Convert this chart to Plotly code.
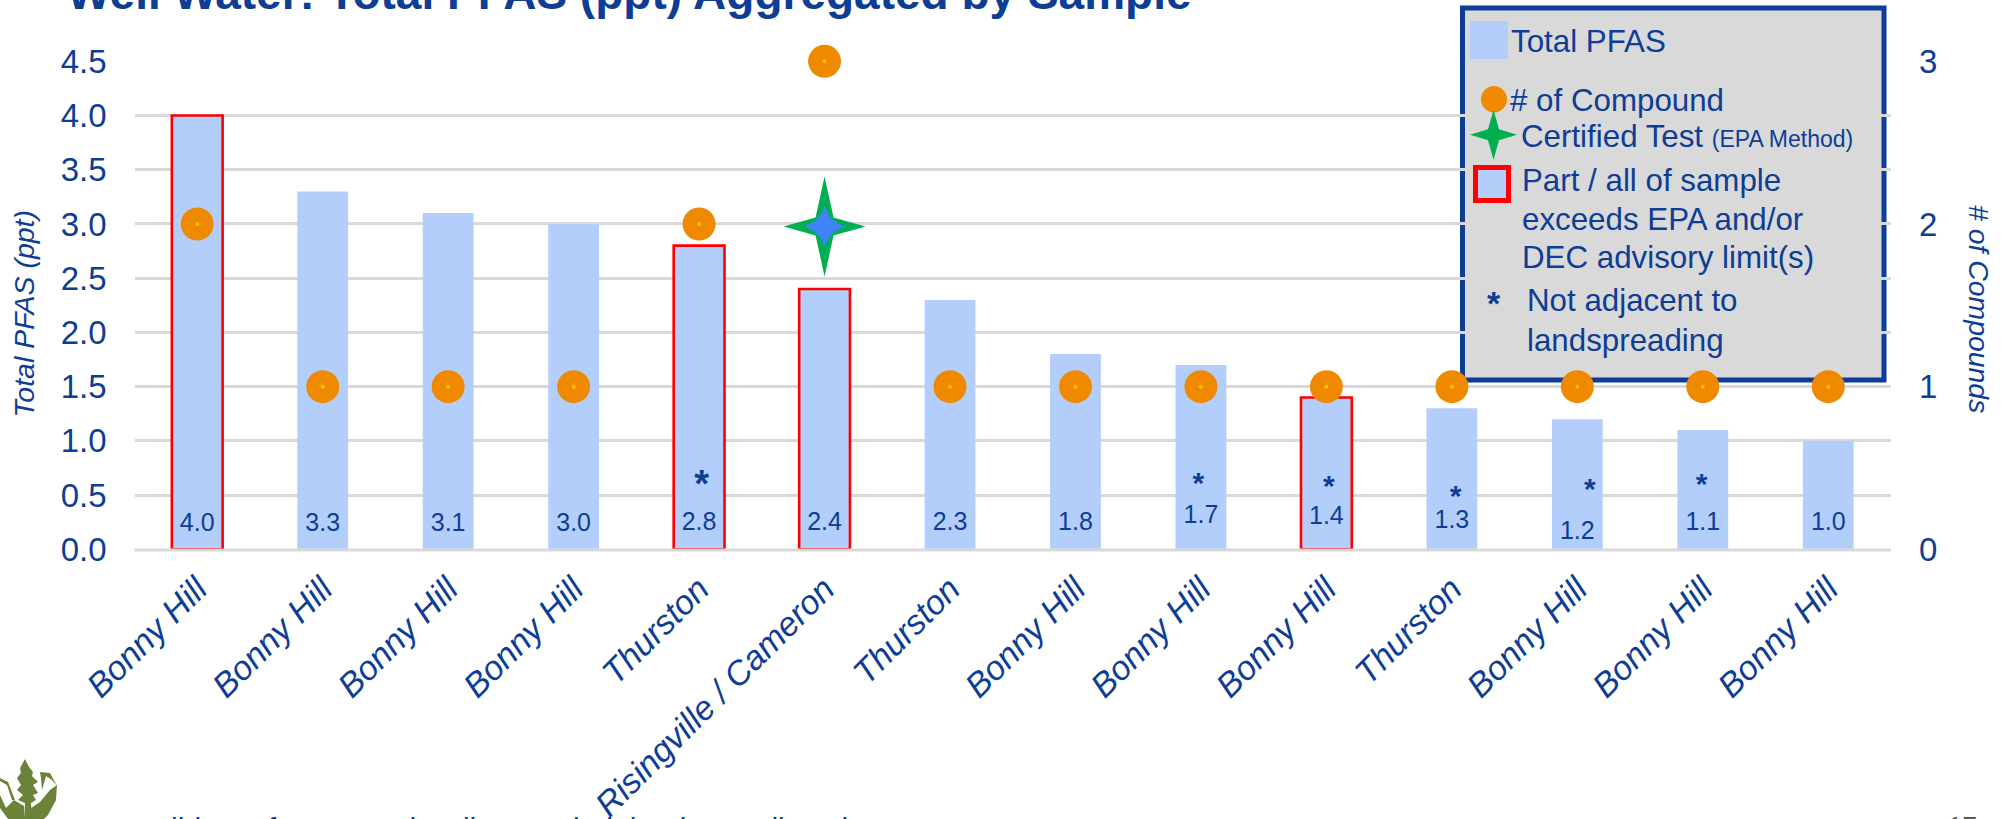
import plotly.graph_objects as go

# ---- data ----
LOCATIONS = ["Bonny Hill", "Bonny Hill", "Bonny Hill", "Bonny Hill", "Thurston", "Risingville / Cameron",
             "Thurston", "Bonny Hill", "Bonny Hill", "Bonny Hill", "Thurston", "Bonny Hill", "Bonny Hill", "Bonny Hill"]
TOTAL_PFAS = [4.0, 3.3, 3.1, 3.0, 2.8, 2.4, 2.3, 1.8, 1.7, 1.4, 1.3, 1.2, 1.1, 1.0]
NUM_COMPOUNDS = [2, 1, 1, 1, 2, 3, 1, 1, 1, 1, 1, 1, 1, 1]
EXCEEDS_LIMIT = [True, False, False, False, True, True, False, False, False, True, False, False, False, False]
NOT_ADJACENT = [False, False, False, False, True, False, False, False, True, True, True, True, True, False]
CERTIFIED_INDEX = [5]
CERTIFIED_LEVEL = [1.985]
Y_TICKS = [0, 0.5, 1, 1.5, 2, 2.5, 3, 3.5, 4, 4.5]
Y2_TICKS = [0, 1, 2, 3]

# ---- label placement (left-axis units) ----
LABEL_HEIGHT = [0.23, 0.23, 0.23, 0.23, 0.235, 0.235, 0.235, 0.235, 0.30, 0.295, 0.25, 0.15, 0.235, 0.24]
STAR_HEIGHT = [0, 0, 0, 0, 0.573, 0, 0, 0, 0.589, 0.564, 0.469, 0.536, 0.582, 0]
STAR_SHIFT = [0, 0, 0, 0, 0.02, 0, 0, 0, -0.02, 0.02, 0.03, 0.1, -0.01, 0]
STAR_SIZE = [0, 0, 0, 0, 38, 0, 0, 0, 30, 30, 30, 30, 30, 0]

# ---- style ----
W, H = 2011, 819
NAVY = "#0D3D94"
BAR = "#B3CEFB"
ORANGE = "#EF8A00"
GRID = "#D9D9D9"
GREEN = "#00B050"
OLIVE = "#6B8239"
FONT = "Liberation Sans"
LEGEND_SIZE = 31.3
L, R, T, B = 134.5, 1891, 61.3, 549.3
Y_RATIO = 4.5 / 3


def xp(x):
    return x / W


def yp(y):
    return 1 - y / H


def poly(points):
    return "M " + " L ".join(f"{xp(x):.5f},{yp(y):.5f}" for x, y in points) + " Z"


def star_path(w, h, c):
    return (f"M {-w},0 L {-c},{c} L 0,{h} L {c},{c} L {w},0 "
            f"L {c},{-c} L 0,{-h} L {-c},{-c} Z")


xs = list(range(len(LOCATIONS)))
fig = go.Figure()

fig.add_trace(go.Bar(
    x=xs, y=TOTAL_PFAS, width=0.405, name="Total PFAS", showlegend=False,
    marker=dict(color=BAR,
                line=dict(color=["#FF0000" if e else BAR for e in EXCEEDS_LIMIT],
                          width=[2.6 if e else 0 for e in EXCEEDS_LIMIT])),
    hoverinfo="skip"))

fig.add_trace(go.Scatter(
    x=xs, y=LABEL_HEIGHT, mode="text", text=[f"{v:.1f}" for v in TOTAL_PFAS],
    textposition="middle center", textfont=dict(family=FONT, size=25, color=NAVY),
    showlegend=False, hoverinfo="skip", cliponaxis=False))

star_x = [i + s for i, s, n in zip(xs, STAR_SHIFT, NOT_ADJACENT) if n]
star_y = [v for v, n in zip(STAR_HEIGHT, NOT_ADJACENT) if n]
star_s = [v for v, n in zip(STAR_SIZE, NOT_ADJACENT) if n]
fig.add_trace(go.Scatter(
    x=star_x, y=star_y, mode="text", text=["*"] * len(star_x),
    textposition="middle center", textfont=dict(family=FONT, size=star_s, color=NAVY, weight="bold"),
    showlegend=False, hoverinfo="skip", cliponaxis=False))

fig.add_trace(go.Scatter(
    x=xs, y=NUM_COMPOUNDS, yaxis="y2", mode="markers", name="# of Compound", showlegend=False,
    marker=dict(symbol="circle", size=33, color=ORANGE, line=dict(width=0)),
    cliponaxis=False, hoverinfo="skip"))
fig.add_trace(go.Scatter(
    x=xs, y=NUM_COMPOUNDS, yaxis="y2", mode="markers", showlegend=False,
    marker=dict(symbol="circle", size=4, color="#FFC000", line=dict(width=0)),
    cliponaxis=False, hoverinfo="skip"))
fig.add_trace(go.Scatter(
    x=CERTIFIED_INDEX, y=CERTIFIED_LEVEL, yaxis="y2", mode="markers", name="Certified Test", showlegend=False,
    marker=dict(symbol="star-diamond", size=30, color="#3F83F8", line=dict(width=0)),
    cliponaxis=False, hoverinfo="skip"))

shapes = [
    # legend box, below the gridlines as in the reference
    dict(type="rect", xref="paper", yref="paper", layer="below",
         x0=xp(1462.5), x1=xp(1884), y0=yp(380), y1=yp(8),
         fillcolor=GRID, line=dict(color=NAVY, width=5)),
    # zero line over the bar feet
    dict(type="line", xref="paper", yref="paper", layer="above",
         x0=xp(L), x1=xp(R), y0=yp(B + 0.6), y1=yp(B + 0.6), line=dict(color=GRID, width=3)),
    # green certified star, anchored on the data (left axis, same scale position as the right axis value)
    dict(type="path", layer="between", xref="x", yref="y", xsizemode="pixel", ysizemode="pixel",
         xanchor=CERTIFIED_INDEX[0], yanchor=CERTIFIED_LEVEL[0] * Y_RATIO,
         path=star_path(41, 50, 9), fillcolor=GREEN, line=dict(width=0)),
    # legend keys
    dict(type="rect", xref="paper", yref="paper", x0=xp(1470), x1=xp(1508), y0=yp(59), y1=yp(21),
         fillcolor=BAR, line=dict(width=0)),
    dict(type="circle", xref="paper", yref="paper", x0=xp(1481), x1=xp(1507), y0=yp(112.5), y1=yp(86),
         fillcolor=ORANGE, line=dict(width=0)),
    dict(type="path", xref="paper", yref="paper", xsizemode="pixel", ysizemode="pixel",
         xanchor=xp(1493.5), yanchor=yp(134.7), path=star_path(23.5, 25, 5.5),
         fillcolor=GREEN, line=dict(width=0)),
    dict(type="rect", xref="paper", yref="paper", x0=xp(1475.5), x1=xp(1508.5), y0=yp(200.5), y1=yp(167.5),
         fillcolor=BAR, line=dict(color="#FF0000", width=5)),
    # logo
    dict(type="path", xref="paper", yref="paper", fillcolor=OLIVE, line=dict(width=0),
         path=poly([(25, 759), (29, 767), (33, 772), (32, 776), (38, 782), (33, 785), (38, 793), (33, 795),
                    (36, 800), (31, 803), (32, 819), (24, 819), (25, 803), (18, 800), (23, 795), (17, 790),
                    (21, 785), (17, 778), (21, 773), (20, 768)])),
    dict(type="path", xref="paper", yref="paper", fillcolor=OLIVE, line=dict(width=0),
         path=poly([(0, 795), (6, 808), (14, 800), (24, 806), (24, 819), (8, 819), (0, 808)])),
    dict(type="path", xref="paper", yref="paper", fillcolor=OLIVE, line=dict(width=0),
         path=poly([(31, 808), (40, 802), (50, 790), (57, 785), (56, 800), (48, 815), (44, 819), (31, 819)])),
    dict(type="path", xref="paper", yref="paper", fillcolor=OLIVE, line=dict(width=0),
         path=poly([(40, 772), (50, 773), (57, 786), (52, 780), (46, 776), (42, 790), (41, 778)])),
    dict(type="path", xref="paper", yref="paper", fillcolor=OLIVE, line=dict(width=0),
         path=poly([(0, 778), (8, 782), (15, 800), (12, 800), (7, 785), (0, 781)])),
]


def note(text, x, y, size=LEGEND_SIZE, color=NAVY, bold=False, anchor="left", angle=0, italic=False):
    s = text
    if bold:
        s = f"<b>{s}</b>"
    if italic:
        s = f"<i>{s}</i>"
    return dict(text=s, xref="paper", yref="paper", x=xp(x), y=yp(y), xanchor=anchor, yanchor="middle",
                showarrow=False, textangle=angle, borderpad=0,
                font=dict(family=FONT, size=size, color=color))


annotations = [
    note("Well Water: Total PFAS (ppt) Aggregated by Sample", 66, -7, size=46, bold=True),
    note("Total PFAS (ppt)", 23.5, 314, size=28.5, anchor="center", angle=-90, italic=True),
    note("# of Compounds", 1979, 309, size=28.4, anchor="center", angle=90, italic=True),
    note("Total PFAS", 1510, 41.7),
    note("# of Compound", 1509, 100),
    note("Certified Test <span style='font-size:23px'>(EPA Method)</span>", 1520, 137),
    note("Part / all of sample", 1521, 180),
    note("exceeds EPA and/or", 1521, 220),
    note("DEC advisory limit(s)", 1521, 257),
    note("*", 1493.5, 303, size=34, anchor="center", bold=True),
    note("Not adjacent to", 1525.5, 300),
    note("landspreading", 1525.5, 340),
    note("Note: Slide 8 of 8: 67 total wells sampled, landspreading sites", 70, 828, size=30),
    note("17", 1947, 826, size=26, color="#595959"),
]

fig.update_layout(
    width=W, height=H, margin=dict(l=0, r=0, t=0, b=0, autoexpand=False),
    paper_bgcolor="rgba(0,0,0,0)", plot_bgcolor="rgba(0,0,0,0)",
    showlegend=False, bargap=0.6, shapes=shapes, annotations=annotations,
    font=dict(family=FONT, color=NAVY),
    xaxis=dict(domain=[xp(L), xp(R)], range=[-0.5, 13.5], tickmode="array", tickvals=xs, ticktext=LOCATIONS,
               tickangle=-45, showgrid=False, zeroline=False, showline=False, ticks="", ticklabelstandoff=12,
               tickfont=dict(family=FONT, size=34, color=NAVY, style="italic"), automargin=False),
    yaxis=dict(domain=[yp(B), yp(T)], range=[0, 4.5], tickmode="array", tickvals=Y_TICKS,
               ticktext=[f"{v:.1f}" for v in Y_TICKS], showgrid=True, gridcolor=GRID, gridwidth=3,
               zeroline=False, showline=False, ticks="", ticklabelstandoff=27,
               tickfont=dict(family=FONT, size=33, color=NAVY), automargin=False),
    yaxis2=dict(domain=[yp(B), yp(T)], range=[0, 3], overlaying="y", side="right", tickmode="array",
                tickvals=Y2_TICKS, ticktext=[str(v) for v in Y2_TICKS], showgrid=False, zeroline=False,
                showline=False, ticks="", ticklabelstandoff=27,
                tickfont=dict(family=FONT, size=33, color=NAVY), automargin=False),
)

fig.write_html("out.html", config={"displayModeBar": False},
               post_script="document.body.style.margin='0';document.body.style.overflow='hidden';")
